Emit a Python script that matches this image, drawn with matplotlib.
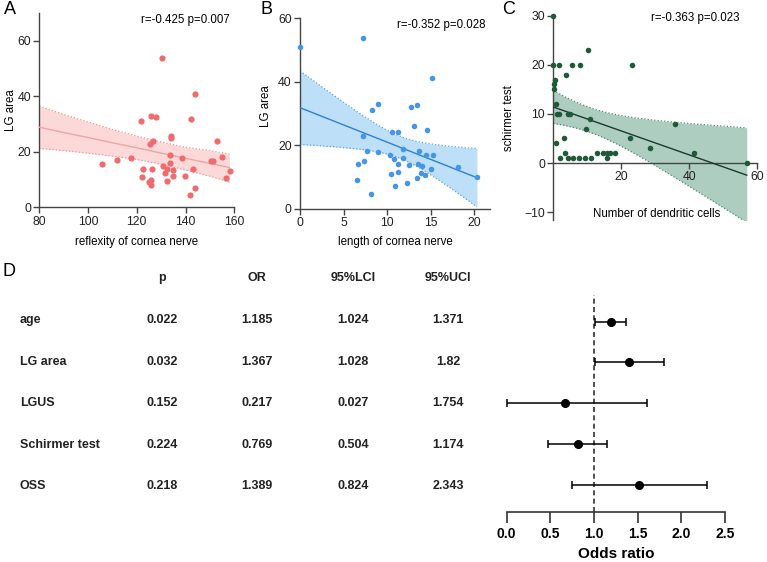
import numpy as np
import matplotlib
matplotlib.use("Agg")
import matplotlib.pyplot as plt

plt.rcParams['font.family'] = ['Liberation Sans', 'DejaVu Sans']

# ---------------- data ----------------
a_x = [105.6, 111.7, 117.5, 121.8, 122.1, 122.7, 124.9, 125.4, 125.7, 125.8,
       125.9, 126.4, 126.8, 127.9, 130.5, 130.6, 131.7, 132.2, 132.2, 133.6,
       133.6, 133.9, 133.9, 135.0, 135.0, 138.5, 139.9, 141.8, 142.1, 143.2,
       143.7, 143.9, 150.4, 151.4, 152.8, 155.1, 156.7, 158.1]
a_y = [15.5, 16.9, 17.6, 31.0, 10.8, 13.9, 9.0, 22.9, 9.8, 33.0,
       7.9, 13.9, 23.8, 32.6, 53.6, 14.9, 12.3, 13.9, 9.4, 18.7,
       16.0, 25.8, 24.8, 13.3, 11.3, 17.9, 11.1, 4.4, 31.8, 13.6,
       40.7, 7.1, 16.8, 16.8, 23.9, 18.1, 10.6, 12.9]

# Panel A fit line and 95% band
a_fit_x = [80, 90, 100, 110, 120, 130, 140, 150, 158]
a_fit_y = [28.8, 26.9, 25.1, 23.2, 21.4, 19.5, 17.6, 15.8, 14.3]
a_band_hi = [36.4, 33.4, 30.7, 28.0, 25.6, 23.5, 21.6, 20.4, 19.2]
a_band_lo = [21.2, 20.4, 19.5, 18.4, 17.2, 15.5, 13.4, 11.2, 9.1]

b_x = [0.0, 7.2, 6.5, 6.7, 7.2, 7.4, 7.7, 8.2, 8.3, 8.9,
       9.0, 10.3, 10.4, 10.6, 10.8, 10.9, 11.3, 11.3, 11.3, 11.8,
       11.8, 12.3, 12.5, 12.7, 13.1, 13.4, 13.4, 13.5, 13.6, 13.9,
       14.0, 14.3, 14.4, 14.6, 15.0, 15.2, 15.3, 18.1, 20.3]
b_y = [51.1, 53.9, 9.0, 14.1, 22.9, 15.0, 18.3, 4.5, 31.1, 17.8,
       33.0, 17.0, 11.0, 24.1, 15.7, 7.3, 14.1, 24.1, 11.6, 18.9,
       16.1, 8.1, 13.7, 31.9, 26.1, 32.8, 9.6, 14.1, 18.1, 11.2,
       13.3, 10.7, 17.0, 24.8, 12.4, 41.1, 17.0, 13.1, 9.9]

c_x = [0.0, 0.0, 1.8, 0.2, 0.3, 0.4, 0.7, 0.8, 1.0, 1.8,
       2.1, 3.1, 3.5, 3.7, 4.2, 4.9, 4.2, 5.4, 5.9, 7.6,
       7.8, 9.3, 9.5, 10.1, 10.7, 11.1, 12.9, 14.7, 15.8, 15.9,
       16.6, 18.2, 22.5, 23.2, 28.3, 35.9, 41.3, 56.9]
c_y = [30, 20, 20, 15, 16, 17, 12, 4, 10, 10,
       1, 5, 2, 18, 10, 10, 1, 20, 1, 1,
       20, 1, 7, 23, 9, 1, 2, 2, 1, 2,
       2, 2, 5, 20, 3, 8, 2, 0]

stats_text = ["r=-0.425 p=0.007", "r=-0.352 p=0.028", "r=-0.363 p=0.023"]

table_cols = ["p", "OR", "95%LCI", "95%UCI"]
table_rows = ["age", "LG area", "LGUS", "Schirmer test", "OSS"]
table_p = ["0.022", "0.032", "0.152", "0.224", "0.218"]
table_or = ["1.185", "1.367", "0.217", "0.769", "1.389"]
table_lci = ["1.024", "1.028", "0.027", "0.504", "0.824"]
table_uci = ["1.371", "1.82", "1.754", "1.174", "2.343"]

forest_est = [1.195, 1.40, 0.668, 0.82, 1.52]
forest_lo = [1.01, 1.01, 0.0, 0.477, 0.745]
forest_hi = [1.37, 1.80, 1.61, 1.15, 2.29]

# ---------------- figure ----------------
W, H = 767, 562
fig = plt.figure(figsize=(W / 100, H / 100), dpi=100)


def ax_px(l, t, r, b):
    return fig.add_axes([l / W, 1 - b / H, (r - l) / W, (b - t) / H])


def fx(x):
    return x / W


def fy(y):
    return 1 - y / H


def fit_band(x, y, xs, t=2.03):
    x = np.asarray(x, float)
    y = np.asarray(y, float)
    n = len(x)
    b, a = np.polyfit(x, y, 1)
    res = y - (a + b * x)
    s = np.sqrt(np.sum(res ** 2) / (n - 2))
    sxx = np.sum((x - x.mean()) ** 2)
    yh = a + b * xs
    se = s * np.sqrt(1.0 / n + (xs - x.mean()) ** 2 / sxx)
    return yh, yh - t * se, yh + t * se


spine_c = '#444444'
TICK_FS = 8.8
LAB_FS = 8.3
STAT_FS = 8.3


def style(ax):
    for s in ['top', 'right']:
        ax.spines[s].set_visible(False)
    for s in ['left', 'bottom']:
        ax.spines[s].set_color(spine_c)
        ax.spines[s].set_linewidth(1.0)
    ax.tick_params(direction='out', length=4, width=1.0, color=spine_c,
                   labelsize=TICK_FS, labelcolor='#222222', pad=2)


def draw_band(ax, xs, yh, lo, hi, bandc, edgec, linec):
    ax.fill_between(xs, lo, hi, color=bandc, lw=0, zorder=1)
    ax.plot(xs, lo, ls=':', color=edgec, lw=0.9, zorder=2)
    ax.plot(xs, hi, ls=':', color=edgec, lw=0.9, zorder=2)
    ax.plot(xs, yh, color=linec, lw=1.0, zorder=3)


def scatter_panel(ax, x, y, x0, pc, bandc, edgec, linec, s):
    xs = np.linspace(x0, max(x), 200)
    yh, lo, hi = fit_band(x, y, xs)
    draw_band(ax, xs, yh, lo, hi, bandc, edgec, linec)
    ax.scatter(x, y, s=s, color=pc, lw=0, zorder=4, clip_on=False)


# Panel A
axA = ax_px(39.3, 12.7, 234.3, 207.3)
draw_band(axA, a_fit_x, a_fit_y, a_band_lo, a_band_hi,
          '#fcd8d8', '#e79a9a', '#eda5a5')
axA.scatter(a_x, a_y, s=20, color='#f06a6e', lw=0, zorder=4, clip_on=False)
axA.set_xlim(80, 160)
axA.set_ylim(0, 70)
axA.set_xticks([80, 100, 120, 140, 160])
axA.set_yticks([0, 20, 40, 60])
style(axA)
axA.set_xlabel("reflexity of cornea nerve", fontsize=LAB_FS)
axA.set_ylabel("LG area", fontsize=LAB_FS)
axA.xaxis.set_label_coords(0.497, -0.147)
axA.yaxis.set_label_coords(-0.112, 0.5)
axA.text(0.52, 0.96, stats_text[0], transform=axA.transAxes, fontsize=STAT_FS,
         ha='left', va='center')

# Panel B
axB = ax_px(300, 18.3, 490, 208.7)
scatter_panel(axB, b_x, b_y, 0, '#4596e6', '#bde0f8', '#5aa2e2', '#2f7fdc', 16)
axB.set_xlim(0, 21.8)
axB.set_ylim(0, 60)
axB.set_xticks([0, 5, 10, 15, 20])
axB.set_yticks([0, 20, 40, 60])
style(axB)
axB.set_xlabel("length of cornea nerve", fontsize=LAB_FS)
axB.set_ylabel("LG area", fontsize=LAB_FS)
axB.xaxis.set_label_coords(0.5, -0.143)
axB.yaxis.set_label_coords(-0.145, 0.54)
axB.text(0.51, 0.965, stats_text[1], transform=axB.transAxes, fontsize=STAT_FS,
         ha='left', va='center')

# Panel C
axC = ax_px(553.3, 15.7, 757.3, 220)
scatter_panel(axC, c_x, c_y, 0, '#1e5a38', '#aecdc1', '#4f8a72', '#1c3a2a', 16)
axC.set_xlim(0, 60)
axC.set_ylim(-11.6, 30)
axC.set_xticks([20, 40, 60])
axC.set_yticks([-10, 0, 10, 20, 30])
style(axC)
axC.spines['bottom'].set_position(('data', 0))
axC.set_xlabel("Number of dendritic cells", fontsize=LAB_FS)
axC.set_ylabel("schirmer test", fontsize=LAB_FS)
axC.xaxis.set_label_coords(0.507, 0.058)
axC.yaxis.set_label_coords(-0.19, 0.5)
axC.text(0.48, 0.99, stats_text[2], transform=axC.transAxes, fontsize=STAT_FS,
         ha='left', va='center')

# Panel letters
fig.text(fx(4), fy(10), "A", fontsize=13, ha='left', va='center')
fig.text(fx(261), fy(10), "B", fontsize=13, ha='left', va='center')
fig.text(fx(502), fy(10), "C", fontsize=13, ha='left', va='center')
fig.text(fx(2), fy(272), "D", fontsize=13, ha='left', va='center')

# Table
col_x = [162, 257, 353, 448]
row_y = [320, 362, 403, 445, 486]
for cx, name in zip(col_x, table_cols):
    fig.text(fx(cx), fy(278), name, fontsize=9, fontweight='bold',
             ha='center', va='center', color='#222222')
for i, ry in enumerate(row_y):
    fig.text(fx(20), fy(ry), table_rows[i], fontsize=9, fontweight='bold',
             ha='left', va='center', color='#222222')
    for cx, col in zip(col_x, [table_p, table_or, table_lci, table_uci]):
        fig.text(fx(cx), fy(ry), col[i], fontsize=9, fontweight='bold',
                 ha='center', va='center', color='#222222')

# Forest plot
axF = ax_px(506.7, 295, 725, 512)
ypos = np.arange(len(forest_est))[::-1] + 1.0
est = np.array(forest_est)
lo = np.array(forest_lo)
hi = np.array(forest_hi)
axF.errorbar(est, ypos, xerr=[est - lo, hi - est], fmt='o', color='black',
             ms=5.5, elinewidth=1.1, capsize=3, capthick=1.1, clip_on=False,
             zorder=3)
axF.axvline(1.0, color='#333333', ls=(0, (3, 2)), lw=1.2, zorder=1)
axF.set_xlim(0, 2.5)
axF.set_ylim(0.34, 5.65)
axF.set_xticks([0.0, 0.5, 1.0, 1.5, 2.0, 2.5])
axF.set_xticklabels(["0.0", "0.5", "1.0", "1.5", "2.0", "2.5"])
for s in ['top', 'right', 'left']:
    axF.spines[s].set_visible(False)
axF.spines['bottom'].set_linewidth(1.2)
axF.spines['bottom'].set_color('#333333')
axF.set_yticks([])
axF.tick_params(axis='x', direction='out', length=8, width=1.2, color='#333333',
                labelsize=10, pad=3)
for lab in axF.get_xticklabels():
    lab.set_fontweight('bold')
axF.set_xlabel("Odds ratio", fontsize=11, fontweight='bold', labelpad=4)

fig.savefig("out.png", dpi=100)
